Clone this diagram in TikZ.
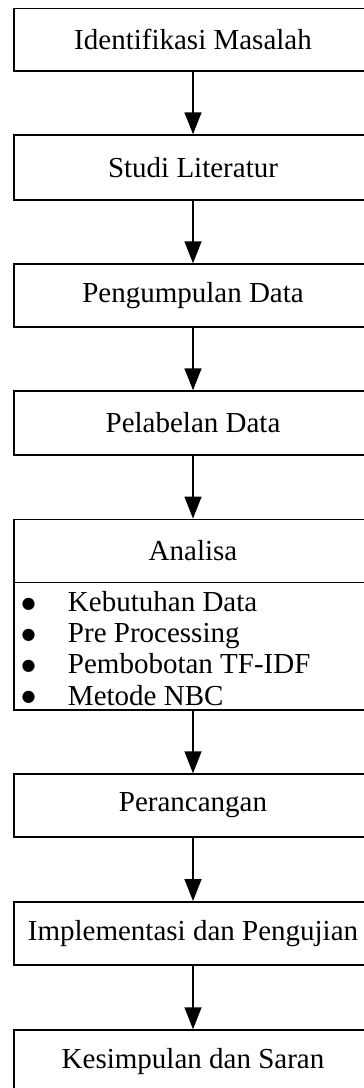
\documentclass[tikz,border=0pt]{standalone}
\usepackage{fontspec}
\setmainfont{Liberation Serif}
\newfontfamily\bulfont{DejaVu Sans}
\usetikzlibrary{arrows.meta}
\newcommand{\bigbul}{\makebox[46.3pt][l]{\raisebox{3.5pt}{\bulfont\fontsize{16}{16}\selectfont ●}}}
\begin{document}
\begin{tikzpicture}[x=1pt,y=-1pt,
  stepbox/.style={draw, line width=1.5pt, rectangle, minimum width=358.5pt, inner sep=0pt, font=\fontsize{29}{31}\selectfont},
  itemtext/.style={inner sep=0pt, anchor=base west, font=\fontsize{29}{29}\selectfont},
  flow/.style={line width=1.5pt, -{Triangle[length=22pt,width=17pt]}}]
\useasboundingbox (0,0) rectangle (364,1088);
\clip (0,0) rectangle (364,1088);
\node[stepbox, minimum height=62.7pt] (b1) at (193,39.6) {Identifikasi Masalah};
\node[stepbox, minimum height=65pt] (b2) at (193,167.5) {Studi Literatur};
\node[stepbox, minimum height=62.7pt] (b3) at (193,295.4) {Pengumpulan Data};
\node[stepbox, minimum height=64pt] (b4) at (193,423) {Pelabelan Data};
\node[stepbox, minimum height=63pt] (b5) at (193,550.8) {Analisa};
\node[stepbox, minimum height=127.7pt] (b5l) at (193,646.15) {};
\node[itemtext] (i1) at (21.5,611.7) {\bigbul Kebutuhan Data};
\node[itemtext] (i2) at (21.5,642.8) {\bigbul Pre Processing};
\node[itemtext] (i3) at (21.5,673.9) {\bigbul Pembobotan TF-IDF};
\node[itemtext] (i4) at (21.5,705) {\bigbul Metode NBC};
\node[stepbox, minimum height=62.7pt] (b6) at (193,805.4) {Perancangan};
\node[stepbox, minimum height=63.3pt] (b7) at (193,933.4) {Implementasi dan Pengujian};
\node[stepbox, minimum height=63pt] (b8) at (193,1061.5) {Kesimpulan dan Saran};
\draw[flow] (b1) -- (b2);
\draw[flow] (b2) -- (b3);
\draw[flow] (b3) -- (b4);
\draw[flow] (b4) -- (b5);
\draw[flow] (b5l) -- (b6);
\draw[flow] (b6) -- (b7);
\draw[flow] (b7) -- (b8);
\end{tikzpicture}
\end{document}
